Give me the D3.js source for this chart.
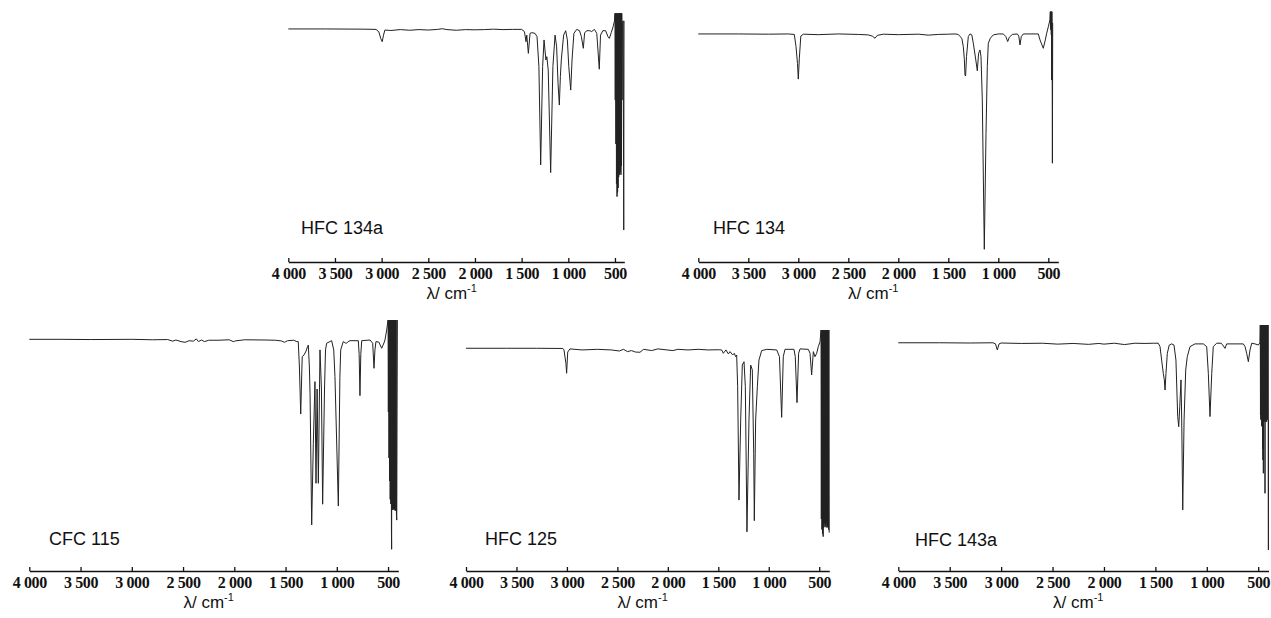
<!DOCTYPE html>
<html>
<head>
<meta charset="utf-8">
<script src="https://cdn.jsdelivr.net/npm/d3@7"></script>
<style>
  body { margin: 0; background: #fff; }
  svg { display: block; }
  .tick text { font-family: 'Liberation Serif', 'Times New Roman', serif; font-weight: bold; font-size: 16px; letter-spacing: -0.4px; fill: #111; }
  .axis-title { font-family: 'Liberation Sans', Arial, sans-serif; font-size: 17px; fill: #111; }
  .name { font-family: 'Liberation Sans', Arial, sans-serif; font-size: 18px; fill: #111; }
</style>
</head>
<body>
<div id="chart"></div>
<script>
// compounds, in drawing order
const compounds = ['HFC 134a', 'HFC 134', 'CFC 115', 'HFC 125', 'HFC 143a'];

// x axis (wavenumber, cm-1)
const tickValues = [4000, 3500, 3000, 2500, 2000, 1500, 1000, 500];
const tickLabels = ['4 000', '3 500', '3 000', '2 500', '2 000', '1 500', '1 000', '500'];

// spectra: [wavenumber, transmittance %]
const hfc134a = [
  [4000, 92.3], [3600, 92.3], [3200, 92.2], [3060, 92.1], [3030, 91], [3010, 88], [2994, 86.5], [2980, 89.5],
  [2965, 91.8], [2900, 91.6], [2800, 92], [2700, 91.7], [2600, 92], [2500, 91.8], [2400, 92.1], [2350, 92.4],
  [2300, 92], [2200, 91.7], [2100, 92], [2000, 91.9], [1900, 92], [1800, 92.2], [1700, 92], [1600, 92.1],
  [1500, 92.1], [1470, 91.1], [1453, 86.5], [1445, 89.5], [1428, 81.2], [1410, 90.3], [1390, 90.6], [1357, 90.3],
  [1335, 88.8], [1315, 75.2], [1296, 30.5], [1275, 75.2], [1260, 87.3], [1240, 78.2], [1230, 79.7], [1215, 73.6],
  [1189, 27], [1165, 75.2], [1142, 89.5], [1125, 84.2], [1110, 67.6], [1096, 57.7], [1085, 70.6], [1075, 78.2],
  [1050, 89.5], [1028, 91.5], [1010, 87.3], [995, 75.2], [974, 64.5], [960, 78.2], [940, 90.3], [910, 92.1],
  [880, 91.5], [860, 88.8], [839, 83.5], [825, 90.6], [800, 91.5], [770, 91.5], [750, 91.1], [720, 92.1],
  [695, 90.3], [668, 74], [655, 89.5], [630, 91.5], [600, 91.5], [575, 88.8], [560, 88], [540, 90.6],
  [520, 93.3], [505, 96], [500, 99.4], [497, 60], [494, 99.4], [490, 40], [487, 99.4], [484, 22],
  [481, 99.4], [478, 16.1], [475, 99.4], [472, 18], [469, 99.4], [466, 20], [463, 99.4], [460, 25],
  [457, 99.4], [454, 26], [451, 99.4], [448, 27], [445, 99.4], [442, 28], [439, 99.4], [436, 26],
  [433, 99.4], [430, 30], [427, 99.4], [424, 60], [420, 95], [412, 96], [406, 0.9], [403, 96]
];

const hfc134 = [
  [4000, 90.4], [3600, 90.4], [3300, 90.3], [3100, 90.4], [3040, 90.2], [3023, 85.1], [3008, 78], [3000, 71.5],
  [2990, 80], [2975, 89.5], [2950, 90.3], [2800, 90.1], [2600, 90.4], [2400, 90.2], [2300, 90], [2260, 89.5],
  [2233, 88.6], [2210, 89.8], [2150, 90.3], [2000, 90.1], [1800, 90.3], [1700, 89.9], [1600, 90.2], [1500, 90.3],
  [1433, 90.4], [1400, 90.2], [1383, 89.3], [1365, 88.6], [1350, 85.1], [1340, 80], [1333, 73.2], [1327, 72.8],
  [1318, 80.9], [1300, 89.3], [1283, 90.4], [1265, 90], [1250, 86.5], [1225, 79.5], [1210, 75], [1197, 82.3],
  [1183, 83.7], [1173, 80.9], [1160, 62.8], [1140, 0.3], [1123, 48.8], [1110, 76.7], [1100, 86.5], [1080, 88.6],
  [1050, 90], [1000, 90.4], [950, 90.4], [925, 89.3], [906, 87.2], [890, 89], [860, 90.2], [810, 90.4],
  [795, 89.5], [783, 85.8], [770, 89.3], [750, 90.4], [600, 90.4], [583, 87.9], [550, 84.4], [530, 87.9],
  [516, 90.7], [500, 93.4], [484, 96.2], [480, 99.7], [478, 93], [476, 99.7], [474, 92], [472, 99.7],
  [470, 90], [468, 99.7], [466, 71.1], [464, 99.7], [462, 90], [459, 36.3], [456, 95]
];

const cfc115 = [
  [4000, 91.6], [3700, 91.6], [3400, 91.5], [3000, 91.6], [2800, 91.4], [2650, 91.5], [2600, 90.8], [2570, 91.3],
  [2520, 90.6], [2480, 90.3], [2440, 91], [2400, 90.8], [2370, 91.8], [2350, 90.6], [2320, 91.3], [2290, 90.6],
  [2250, 91.2], [2150, 91.2], [2050, 91.4], [2010, 90.6], [1990, 90.9], [1900, 91.4], [1700, 91.3], [1600, 91.2],
  [1540, 90.9], [1510, 90.3], [1480, 91], [1420, 91.2], [1390, 90.6], [1376, 90.6], [1365, 80], [1352, 59.1],
  [1340, 80], [1337, 84.1], [1320, 84.8], [1300, 86.5], [1285, 88.5], [1278, 89.1], [1268, 80], [1261, 68.1],
  [1245, 10.9], [1229, 46.4], [1213, 73.2], [1203, 29], [1192, 70], [1180, 29], [1164, 87], [1150, 70],
  [1138, 19.9], [1120, 70], [1110, 87], [1099, 89.9], [1050, 91], [1030, 87], [1018, 75.4], [985, 19.1],
  [970, 75], [962, 87], [937, 90.6], [915, 90], [904, 89.9], [890, 90.6], [871, 91], [790, 91],
  [782, 85], [774, 67.1], [766, 85], [757, 91], [676, 91.3], [650, 89.9], [637, 79], [628, 87],
  [618, 90.6], [590, 90.4], [562, 87.7], [540, 90], [530, 91.3], [513, 95.7], [500, 100], [497, 60],
  [494, 100], [491, 40], [488, 100], [485, 30], [482, 100], [479, 22], [476, 100], [473, 20],
  [470, 100], [467, 10], [465, 0.3], [463, 100], [460, 18], [457, 100], [454, 17.4], [451, 100],
  [448, 18], [445, 100], [442, 17.4], [439, 100], [436, 18], [433, 100], [430, 17], [427, 100],
  [424, 17.4], [421, 100], [418, 15], [415, 13], [412, 60], [409, 100]
];

const hfc125 = [
  [4000, 91.3], [3600, 91.3], [3300, 91.3], [3040, 91.2], [3029, 90.5], [3010, 84.1], [3003, 79.4], [2992, 89.5],
  [2970, 91], [2850, 90.5], [2700, 90.8], [2560, 90.5], [2480, 90], [2440, 90.8], [2400, 89.7], [2360, 90.2],
  [2320, 89.5], [2276, 89.4], [2240, 90.8], [2160, 90.2], [2100, 91], [1950, 90.2], [1900, 90.8], [1800, 90.5],
  [1700, 90.8], [1600, 90.5], [1500, 90.6], [1467, 90.5], [1450, 88.9], [1424, 90.5], [1400, 88.6], [1384, 89.7],
  [1357, 88.1], [1341, 88.9], [1328, 87.3], [1318, 88.1], [1308, 73], [1295, 19], [1278, 57.1], [1262, 83.3],
  [1245, 84.9], [1232, 73], [1216, 3.9], [1196, 57.1], [1179, 83.3], [1163, 81], [1149, 41.3], [1143, 9.2],
  [1130, 57.1], [1113, 73], [1097, 85.7], [1070, 90.2], [1020, 90.8], [921, 90.5], [894, 87.3], [872, 58.4],
  [856, 87.3], [839, 90.8], [750, 90.8], [737, 87.3], [720, 65.4], [704, 88.9], [690, 91], [608, 90.8],
  [591, 88.9], [575, 78.6], [558, 89.7], [542, 87.3], [525, 88.9], [509, 92.1], [492, 94.4], [482, 100],
  [479, 10], [476, 100], [473, 5], [470, 100], [467, 3], [464, 100], [461, 1.6], [458, 100],
  [455, 6], [452, 100], [449, 8], [446, 100], [443, 6.3], [440, 100], [437, 7], [434, 100],
  [431, 6], [428, 100], [425, 8], [422, 100], [419, 6], [416, 100], [413, 7], [410, 100],
  [407, 5], [404, 100], [401, 3.5]
];

const hfc143a = [
  [4000, 92.1], [3600, 92.1], [3300, 92], [3080, 92.1], [3055, 91.6], [3037, 88.9], [3020, 91.6], [3000, 92],
  [2800, 91.8], [2600, 91.9], [2450, 91.5], [2300, 91.8], [2150, 91.4], [2050, 91.8], [2000, 91.5], [1900, 91.9],
  [1800, 91.3], [1700, 91.9], [1600, 91.8], [1520, 91.9], [1472, 91.9], [1455, 90.4], [1439, 84.4], [1423, 78.5],
  [1413, 75.6], [1406, 71.1], [1397, 78.5], [1384, 87.4], [1365, 91.1], [1341, 91.6], [1319, 91.1], [1300, 84.4],
  [1283, 59.3], [1273, 54.8], [1263, 63.7], [1251, 75.6], [1244, 57.8], [1234, 17.8], [1221, 57.8], [1205, 80],
  [1190, 85.9], [1163, 90.4], [1115, 91.6], [1034, 91.6], [1001, 90.4], [985, 78.5], [969, 59.3], [952, 78.5],
  [937, 90.4], [904, 91.9], [860, 91.9], [839, 90.7], [823, 89.6], [807, 91.6], [645, 91.6], [628, 90.4],
  [612, 87.4], [596, 83.7], [580, 88.9], [563, 91.9], [531, 91.6], [499, 91.1], [483, 92.1], [480, 100],
  [478, 60], [476, 100], [474, 58], [472, 100], [470, 57.8], [468, 100], [466, 55], [464, 100],
  [462, 58], [460, 100], [458, 45], [456, 100], [454, 40], [452, 100], [450, 34.1], [448, 100],
  [446, 58], [444, 100], [442, 57], [440, 100], [438, 58], [436, 100], [434, 25.2], [432, 100],
  [430, 58], [428, 100], [426, 57], [424, 100], [422, 58], [420, 100], [418, 57], [416, 100],
  [413, 58], [410, 100], [407, 58], [404, 100], [401, 0], [400, 58]
];

const spectra = [hfc134a, hfc134, cfc115, hfc125, hfc143a];

// panel placement on the page
const panels = [
  { x0: 288.3, x1: 624.3, axisY: 262, yTop: 12, yBottom: 232, labelX: 301, labelY: 228 },
  { x0: 698.3, x1: 1058.3, axisY: 262, yTop: 11, yBottom: 250, labelX: 713, labelY: 228 },
  { x0: 29.3, x1: 398.3, axisY: 571, yTop: 320, yBottom: 550, labelX: 49, labelY: 539 },
  { x0: 466, x1: 829.3, axisY: 571, yTop: 330, yBottom: 540, labelX: 485, labelY: 539 },
  { x0: 898.3, x1: 1268.5, axisY: 571, yTop: 325, yBottom: 550, labelX: 915, labelY: 540 }
];

const width = 1271;
const height = 618;

const svg = d3.select('#chart')
  .append('svg')
    .attr('width', width)
    .attr('height', height);

panels.forEach((p, i) => {
  const x = d3.scaleLinear().domain([4000, 400]).range([p.x0, p.x1]);
  const y = d3.scaleLinear().domain([0, 100]).range([p.yBottom, p.yTop]);

  const g = svg.append('g');

  const line = d3.line()
    .x(d => x(d[0]))
    .y(d => y(d[1]));

  g.append('path')
    .datum(spectra[i])
    .attr('fill', 'none')
    .attr('stroke', '#222')
    .attr('stroke-width', 1)
    .attr('d', line);

  const axis = d3.axisBottom(x)
    .tickValues(tickValues)
    .tickFormat((d, k) => tickLabels[k])
    .tickSizeInner(-4)
    .tickSizeOuter(0)
    .tickPadding(6);

  const ax = g.append('g')
    .attr('transform', `translate(0,${p.axisY})`)
    .call(axis);
  ax.select('.domain').attr('stroke', '#111').attr('stroke-width', 1.3);
  ax.selectAll('.tick line').attr('stroke', '#111').attr('stroke-width', 1.3);

  const title = g.append('text')
    .attr('class', 'axis-title')
    .attr('x', x(2250))
    .attr('y', p.axisY + 37)
    .attr('text-anchor', 'middle');
  title.append('tspan').text('λ/ cm');
  title.append('tspan').attr('dy', -7).attr('font-size', 11).text('-1');

  g.append('text')
    .attr('class', 'name')
    .attr('x', p.labelX)
    .attr('y', p.labelY)
    .attr('dy', '0.35em')
    .text(compounds[i]);
});
</script>
</body>
</html>
